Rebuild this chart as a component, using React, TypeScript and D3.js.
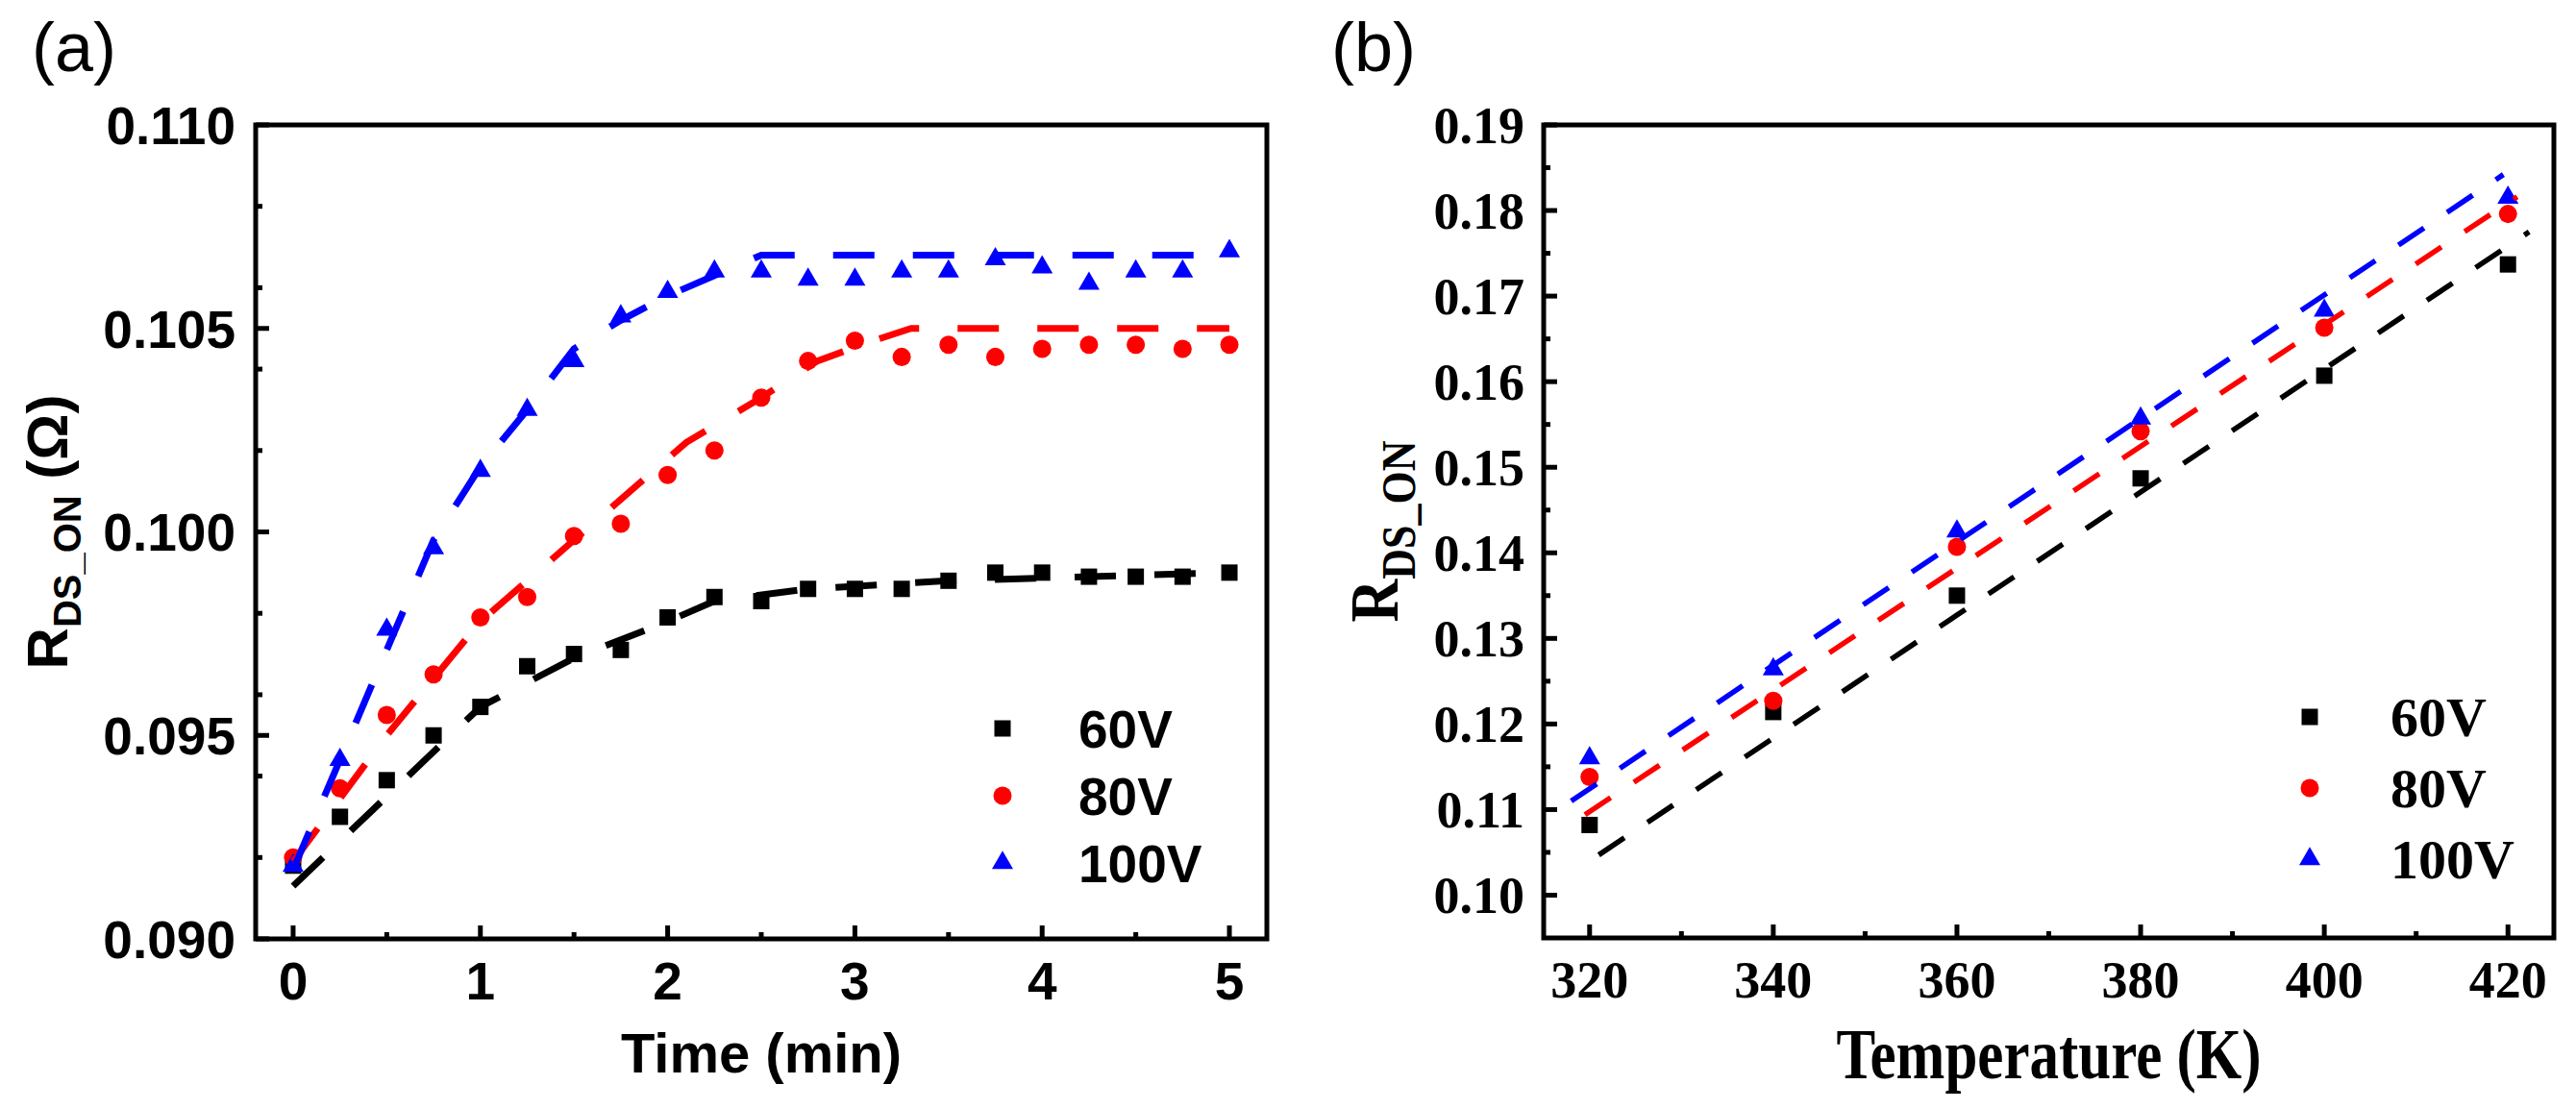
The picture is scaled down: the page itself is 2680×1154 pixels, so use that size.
import * as d3 from "d3";

// (a) R_DS_ON vs time at three bias voltages
const timeMin = [0, 0.25, 0.5, 0.75, 1, 1.25, 1.5, 1.75, 2, 2.25, 2.5, 2.75, 3, 3.25, 3.5, 3.75, 4, 4.25, 4.5, 4.75, 5];
const r60 = [0.0918, 0.0930, 0.0939, 0.0950, 0.0957, 0.0967, 0.0970, 0.0971, 0.0979, 0.0984, 0.0983, 0.0986, 0.0986, 0.0986, 0.0988, 0.0990, 0.0990, 0.0989, 0.0989, 0.0989, 0.0990];
const r80 = [0.0920, 0.0937, 0.0955, 0.0965, 0.0979, 0.0984, 0.0999, 0.1002, 0.1014, 0.1020, 0.1033, 0.1042, 0.1047, 0.1043, 0.1046, 0.1043, 0.1045, 0.1046, 0.1046, 0.1045, 0.1046];
const r100 = [0.0918, 0.0944, 0.0976, 0.0996, 0.1015, 0.1030, 0.1042, 0.1053, 0.1059, 0.1064, 0.1064, 0.1062, 0.1062, 0.1064, 0.1064, 0.1067, 0.1065, 0.1061, 0.1064, 0.1064, 0.1069];

// (a) fitted curves
const fitT60 = [0, 1.0, 1.5, 2.0, 2.25, 2.75, 3.5, 5.0];
const fit60 = [0.0913, 0.0957, 0.0969, 0.0978, 0.0983, 0.0986, 0.0988, 0.0990];
const fitT80 = [0, 0.5, 1.0, 1.5, 1.8, 2.1, 2.5, 2.8, 3.1, 3.3, 5.0];
const fit80 = [0.0919, 0.0950, 0.0978, 0.0998, 0.1010, 0.1022, 0.1033, 0.1042, 0.1047, 0.1050, 0.1050];
const fitT100 = [0, 0.75, 1.0, 1.25, 1.5, 1.75, 2.0, 2.25, 2.5, 5.0];
const fit100 = [0.0917, 0.0998, 0.1016, 0.1030, 0.1045, 0.1052, 0.1058, 0.1063, 0.1068, 0.1068];

// (b) R_DS_ON vs temperature
const tempK = [320, 340, 360, 380, 400, 420];
const b60 = [0.1082, 0.1214, 0.1350, 0.1487, 0.1607, 0.1737];
const b80 = [0.1138, 0.1227, 0.1407, 0.1542, 0.1663, 0.1796];
const b100 = [0.1160, 0.1264, 0.1425, 0.1557, 0.1683, 0.1815];

// (b) linear fits (end points)
const fitK60 = [321, 422.3];
const fitB60 = [0.1047, 0.1775];
const fitK80 = [319.5, 421];
const fitB80 = [0.1094, 0.1816];
const fitK100 = [318, 419.5];
const fitB100 = [0.1110, 0.1842];

const seriesNames = ["60V", "80V", "100V"];
const colors = ["#000000", "#ff0000", "#0000ff"];
const shapes = [d3.symbolSquare, d3.symbolCircle, d3.symbolTriangle];
const shapeSizes = [289, 285, 210];

const W = 2680;
const H = 1154;

const sans = "'Liberation Sans', Arial, sans-serif";
const serif = "'Liberation Serif', 'Times New Roman', serif";

function Marker({ i, x, y }: { i: number; x: number; y: number }) {
  const d = d3.symbol().type(shapes[i]).size(shapeSizes[i])() || undefined;
  return <path d={d} transform={`translate(${x},${y})`} fill={colors[i]} />;
}

function Frame({ x, y }: { x: any; y: any }) {
  const [x0, x1] = x.range();
  const [y0, y1] = y.range();
  return (
    <rect x={x0} y={y1} width={x1 - x0} height={y0 - y1} fill="none" stroke="#000" strokeWidth={5} />
  );
}

function PanelA() {
  const x = d3.scaleLinear().domain([-0.2, 5.2]).range([266, 1318]);
  const y = d3.scaleLinear().domain([0.09, 0.11]).range([977, 130]);
  const xMajor = x.ticks(6);
  const xMinor = x.ticks(12).filter((t) => !xMajor.includes(t));
  const yMajor = y.ticks(4);
  const yMinor = y.ticks(8).filter((t) => !yMajor.some((m) => Math.abs(m - t) < 1e-9));
  const fmt = d3.format(".3f");
  const [left] = x.range();
  const [bottom] = y.range();
  const line = d3.line<number>();
  const fits = [
    [fitT60, fit60],
    [fitT80, fit80],
    [fitT100, fit100],
  ];
  const points = [r60, r80, r100];

  return (
    <g fontFamily={sans} fontWeight="bold">
      <text x={33} y={74} fontSize={72} fontWeight="normal">(a)</text>
      <Frame x={x} y={y} />
      {xMajor.map((t) => (
        <g key={"xm" + t}>
          <line x1={x(t)} x2={x(t)} y1={bottom} y2={bottom - 14} stroke="#000" strokeWidth={5} />
          <text x={x(t)} y={bottom + 63} fontSize={55} textAnchor="middle">{t}</text>
        </g>
      ))}
      {xMinor.map((t) => (
        <line key={"xn" + t} x1={x(t)} x2={x(t)} y1={bottom} y2={bottom - 7} stroke="#000" strokeWidth={5} />
      ))}
      {yMajor.map((t) => (
        <g key={"ym" + t}>
          <line x1={left} x2={left + 14} y1={y(t)} y2={y(t)} stroke="#000" strokeWidth={5} />
          <text x={left - 21} y={y(t)} dy="0.36em" fontSize={55} textAnchor="end">{fmt(t)}</text>
        </g>
      ))}
      {yMinor.map((t) => (
        <line key={"yn" + t} x1={left} x2={left + 7} y1={y(t)} y2={y(t)} stroke="#000" strokeWidth={5} />
      ))}
      {points.map((vals, i) =>
        vals.map((v, k) => <Marker key={i + "-" + k} i={i} x={x(timeMin[k])} y={y(v)} />)
      )}
      {fits.map(([ts, vs], i) => (
        <path
          key={"f" + i}
          d={line(ts.map((t, k) => [x(t), y(vs[k])] as [number, number])) || undefined}
          fill="none"
          stroke={colors[i]}
          strokeWidth={7}
          strokeDasharray="43 40"
        />
      ))}
      {seriesNames.map((n, i) => (
        <g key={"lg" + n}>
          <Marker i={i} x={1043} y={758 + i * 70} />
          <text x={1122} y={758 + i * 70} dy="0.36em" fontSize={55}>{n}</text>
        </g>
      ))}
      <text x={(266 + 1318) / 2} y={1116} fontSize={58} textAnchor="middle">Time (min)</text>
      <text transform={`translate(70,${(130 + 977) / 2}) rotate(-90)`} fontSize={60} textAnchor="middle">
        R<tspan fontSize={40} dy={14}>DS_ON</tspan>
        <tspan dy={-14}> (Ω)</tspan>
      </text>
    </g>
  );
}

function PanelB() {
  const x = d3.scaleLinear().domain([315, 425]).range([1606, 2657]);
  const y = d3.scaleLinear().domain([0.095, 0.19]).range([976, 130]);
  const xMajor = x.ticks(6);
  const xMinor = x.ticks(12).filter((t) => !xMajor.includes(t));
  const yMajor = y.ticks(10).filter((t) => t >= 0.0999);
  const yMinor = y
    .ticks(20)
    .filter((t) => !yMajor.some((m) => Math.abs(m - t) < 1e-9) && t > 0.096 && t < 0.189);
  const fmt = d3.format(".2f");
  const [left] = x.range();
  const [bottom] = y.range();
  const line = d3.line<number>();
  const fits = [
    [fitK60, fitB60],
    [fitK80, fitB80],
    [fitK100, fitB100],
  ];
  const points = [b60, b80, b100];

  return (
    <g fontFamily={serif} fontWeight="bold">
      <text x={1385} y={74} fontSize={72} fontWeight="normal" fontFamily={sans}>(b)</text>
      <Frame x={x} y={y} />
      {xMajor.map((t) => (
        <g key={"xm" + t}>
          <line x1={x(t)} x2={x(t)} y1={bottom} y2={bottom - 14} stroke="#000" strokeWidth={5} />
          <text x={x(t)} y={bottom + 62} fontSize={54} textAnchor="middle">{t}</text>
        </g>
      ))}
      {xMinor.map((t) => (
        <line key={"xn" + t} x1={x(t)} x2={x(t)} y1={bottom} y2={bottom - 7} stroke="#000" strokeWidth={5} />
      ))}
      {yMajor.map((t) => (
        <g key={"ym" + t}>
          <line x1={left} x2={left + 14} y1={y(t)} y2={y(t)} stroke="#000" strokeWidth={5} />
          <text x={left - 20} y={y(t)} dy="0.35em" fontSize={54} textAnchor="end">{fmt(t)}</text>
        </g>
      ))}
      {yMinor.map((t) => (
        <line key={"yn" + t} x1={left} x2={left + 7} y1={y(t)} y2={y(t)} stroke="#000" strokeWidth={5} />
      ))}
      {points.map((vals, i) =>
        vals.map((v, k) => <Marker key={i + "-" + k} i={i} x={x(tempK[k])} y={y(v)} />)
      )}
      {fits.map(([ts, vs], i) => (
        <path
          key={"f" + i}
          d={line(ts.map((t, k) => [x(t), y(vs[k])] as [number, number])) || undefined}
          fill="none"
          stroke={colors[i]}
          strokeWidth={5.5}
          strokeDasharray="32 29"
        />
      ))}
      {seriesNames.map((n, i) => (
        <g key={"lg" + n}>
          <Marker i={i} x={2403} y={746 + i * 74} />
          <text x={2487} y={746 + i * 74} dy="0.35em" fontSize={58}>{n}</text>
        </g>
      ))}
      <text
        transform={`translate(${(1606 + 2657) / 2},1122) scale(1,1.2)`}
        fontSize={61}
        textAnchor="middle"
      >
        Temperature (K)
      </text>
      <text
        transform={`translate(1454,${(130 + 976) / 2}) rotate(-90) scale(1,1.15)`}
        fontSize={62}
        textAnchor="middle"
      >
        R<tspan fontSize={44} dy={16}>DS_ON</tspan>
      </text>
    </g>
  );
}

export default function App() {
  return (
    <svg
      width={W}
      height={H}
      viewBox={`0 0 ${W} ${H}`}
      style={{ position: "absolute", left: 0, top: 0, display: "block", background: "#fff" }}
    >
      <rect width={W} height={H} fill="#fff" />
      <PanelA />
      <PanelB />
    </svg>
  );
}
